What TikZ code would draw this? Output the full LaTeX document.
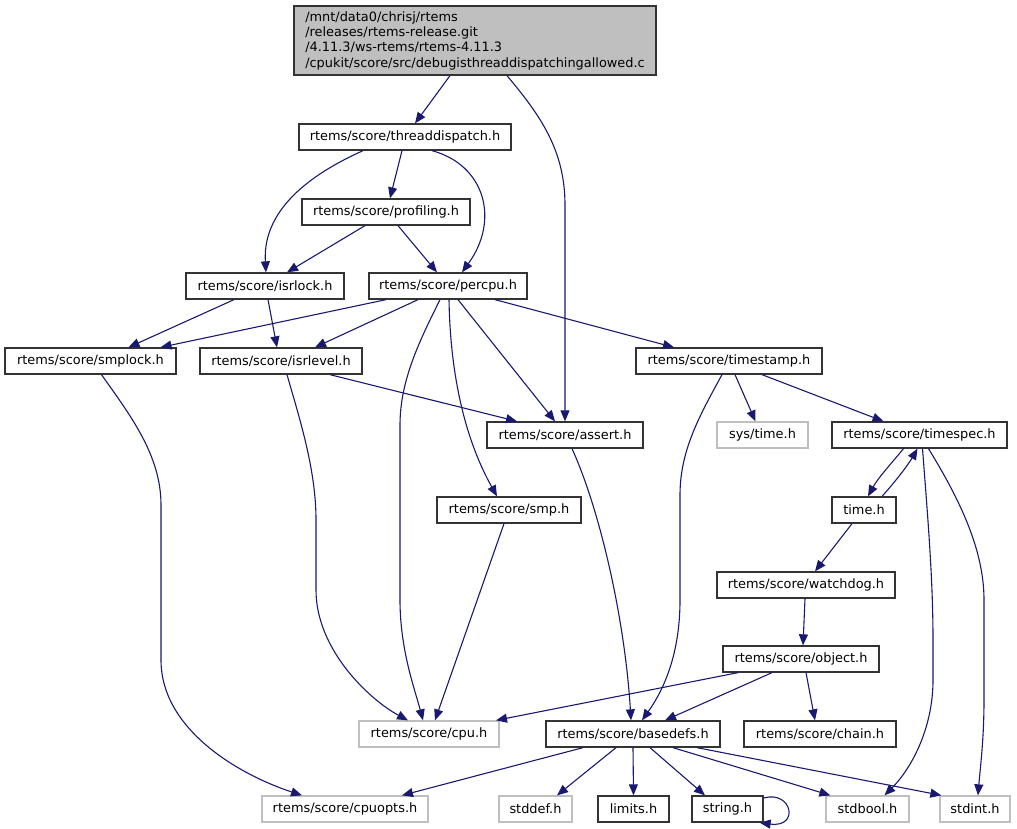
\documentclass[tikz,border=0pt]{standalone}
\usepackage{fontspec}
\setmainfont{DejaVu Sans}
\usetikzlibrary{arrows.meta}
\definecolor{edgec}{HTML}{191970}
\definecolor{grayb}{HTML}{BFBFBF}
\definecolor{nodeb}{HTML}{333333}
\begin{document}
\begin{tikzpicture}[x=1pt,y=-1pt,
  every node/.style={font=\fontsize{12.9}{15.3}\selectfont},
  hdr/.style={draw=nodeb,line width=1.3pt,fill=white,minimum height=26pt,inner xsep=2pt,inner ysep=0pt},
  sysh/.style={hdr,draw=grayb},
  edge/.style={draw=edgec,line width=1.1pt,-{Triangle[length=11pt,width=9pt]}}]
\useasboundingbox (0,0) rectangle (1017,829);

\node[draw=nodeb,fill=grayb,line width=1.3pt,minimum width=362pt,minimum height=69pt,align=left,inner sep=0pt] (top) at (475,40.5)
 {/mnt/data0/chrisj/rtems\\/releases/rtems-release.git\\/4.11.3/ws-rtems/rtems-4.11.3\\/cpukit/score/src/debugisthreaddispatchingallowed.c};

\node[hdr,minimum width=212pt] (td) at (405,137) {rtems/score/threaddispatch.h};
\node[hdr,minimum width=168pt] (prof) at (386,212) {rtems/score/profiling.h};
\node[hdr,minimum width=158pt] (isrlock) at (265,286) {rtems/score/isrlock.h};
\node[hdr,minimum width=158pt] (percpu) at (448,286) {rtems/score/percpu.h};
\node[hdr,minimum width=171pt] (smplock) at (90.5,361) {rtems/score/smplock.h};
\node[hdr,minimum width=162pt] (isrlevel) at (281,361) {rtems/score/isrlevel.h};
\node[hdr,minimum width=186pt] (timestamp) at (729,361) {rtems/score/timestamp.h};
\node[hdr,minimum width=156pt] (assert) at (565,435) {rtems/score/assert.h};
\node[sysh,minimum width=91pt] (systime) at (762.5,435) {sys/time.h};
\node[hdr,minimum width=175pt] (timespec) at (919.5,435) {rtems/score/timespec.h};
\node[hdr,minimum width=144pt] (smp) at (509,510) {rtems/score/smp.h};
\node[hdr,minimum width=64pt] (timeh) at (864,510) {time.h};
\node[hdr,minimum width=178pt] (watchdog) at (806,585) {rtems/score/watchdog.h};
\node[hdr,minimum width=156pt] (object) at (801,659) {rtems/score/object.h};
\node[sysh,minimum width=140pt] (cpu) at (429,734) {rtems/score/cpu.h};
\node[hdr,minimum width=174pt] (basedefs) at (633,734) {rtems/score/basedefs.h};
\node[hdr,minimum width=152pt] (chain) at (820,734) {rtems/score/chain.h};
\node[sysh,minimum width=166pt] (cpuopts) at (345,809) {rtems/score/cpuopts.h};
\node[sysh,minimum width=73pt] (stddef) at (535.5,809) {stddef.h};
\node[hdr,minimum width=71pt] (limits) at (633.5,809) {limits.h};
\node[hdr,minimum width=71pt] (string) at (727.5,809) {string.h};
\node[sysh,minimum width=83pt] (stdbool) at (867.5,809) {stdbool.h};
\node[sysh,minimum width=70pt] (stdint) at (975,809) {stdint.h};

% edges
\draw[edge] ([xshift=-25pt]top.south) -- ([xshift=10pt]td.north);
\draw[edge] ([xshift=32pt]top.south) .. controls (540,115) and (565,150) .. (565,205) -- (assert.north);
\draw[edge] ([xshift=-42pt]td.south) .. controls (320,170) and (262,205) .. ([xshift=1pt]isrlock.north);
\draw[edge] ([xshift=-3pt]td.south) -- ([xshift=4pt]prof.north);
\draw[edge] ([xshift=27pt]td.south) .. controls (485,165) and (500,220) .. ([xshift=14pt]percpu.north);
\draw[edge] ([xshift=-21pt]prof.south) -- ([xshift=22pt]isrlock.north);
\draw[edge] ([xshift=12pt]prof.south) -- ([xshift=-11pt]percpu.north);
\draw[edge] ([xshift=-31pt]isrlock.south) -- ([xshift=38pt]smplock.north);
\draw[edge] ([xshift=3pt]isrlock.south) -- ([xshift=-4pt]isrlevel.north);
\draw[edge] ([xshift=-62pt]percpu.south) -- ([xshift=70pt]smplock.north);
\draw[edge] ([xshift=-30pt]percpu.south) -- ([xshift=34pt]isrlevel.north);
\draw[edge] ([xshift=-8pt]percpu.south) .. controls (420,340) and (400,380) .. (400,425) -- (400,600) .. controls (400,650) and (415,690) .. ([xshift=-6pt]cpu.north);
\draw[edge] ([xshift=1pt]percpu.south) .. controls (450,360) and (460,430) .. ([xshift=-12pt]smp.north);
\draw[edge] ([xshift=10pt]percpu.south) -- ([xshift=-10pt]assert.north);
\draw[edge] ([xshift=47pt]percpu.south) -- ([xshift=-55pt]timestamp.north);
\draw[edge] ([xshift=49pt]isrlevel.south) -- ([xshift=-48pt]assert.north);
\draw[edge] ([xshift=6pt]isrlevel.south) .. controls (300,420) and (316,470) .. (316,520) -- (316,590) .. controls (316,650) and (370,700) .. ([xshift=-21pt]cpu.north);
\draw[edge] ([xshift=11pt]smplock.south) .. controls (130,415) and (161,455) .. (161,505) -- (161,660) .. controls (161,730) and (240,775) .. ([xshift=-43pt]cpuopts.north);
\draw[edge] ([xshift=-7pt]timestamp.south) .. controls (700,415) and (680,450) .. (680,495) -- (680,600) .. controls (680,660) and (660,695) .. ([xshift=9pt]basedefs.north);
\draw[edge] ([xshift=6pt]timestamp.south) -- ([xshift=-7pt]systime.north);
\draw[edge] ([xshift=33pt]timestamp.south) -- ([xshift=-36pt]timespec.north);
\draw[edge] ([xshift=7pt]assert.south) .. controls (600,510) and (625,620) .. ([xshift=-2pt]basedefs.north);
\draw[edge] ([xshift=-5pt]smp.south) -- ([xshift=6pt]cpu.north);
\draw[edge] ([xshift=-16pt]timespec.south) .. controls (890,465) and (878,478) .. ([xshift=4pt]timeh.north);
\draw[edge] ([xshift=18pt]timeh.north) .. controls (895,482) and (908,465) .. ([xshift=-2pt]timespec.south);
\draw[edge] ([xshift=3pt]timespec.south) .. controls (928,520) and (933,580) .. (933,640) -- (933,680) .. controls (933,730) and (910,770) .. ([xshift=17pt]stdbool.north);
\draw[edge] ([xshift=9pt]timespec.south) .. controls (960,500) and (984,550) .. (984,600) -- (984,700) .. controls (984,740) and (980,770) .. ([xshift=3pt]stdint.north);
\draw[edge] ([xshift=-12pt]timeh.south) -- ([xshift=9pt]watchdog.north);
\draw[edge] ([xshift=-1pt]watchdog.south) -- ([xshift=2pt]object.north);
\draw[edge] ([xshift=-63pt]object.south) -- ([xshift=67pt]cpu.north);
\draw[edge] ([xshift=-29pt]object.south) -- ([xshift=32pt]basedefs.north);
\draw[edge] ([xshift=5pt]object.south) -- ([xshift=-5pt]chain.north);
\draw[edge] ([xshift=-50pt]basedefs.south) -- ([xshift=57pt]cpuopts.north);
\draw[edge] ([xshift=-17pt]basedefs.south) -- ([xshift=21.5pt]stddef.north);
\draw[edge] (basedefs.south) -- (limits.north);
\draw[edge] ([xshift=17pt]basedefs.south) -- ([xshift=-22.5pt]string.north);
\draw[edge] ([xshift=40pt]basedefs.south) -- ([xshift=5pt]stdbool.north west);
\draw[edge] ([xshift=64pt]basedefs.south) -- ([xshift=2pt]stdint.north west);
\draw[edge] ([yshift=11pt]string.east) .. controls (792,790) and (800,828) .. ([xshift=-4pt]string.south east);
\end{tikzpicture}
\end{document}
